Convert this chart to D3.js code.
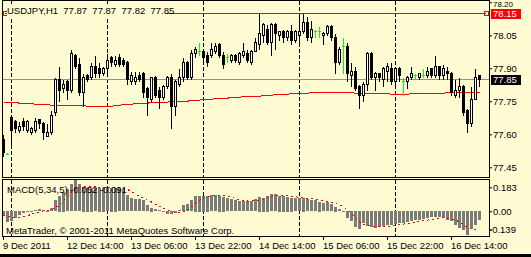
<!DOCTYPE html>
<html>
<head>
<meta charset="utf-8">
<script src="https://cdn.jsdelivr.net/npm/d3@7"></script>
<style>
  html, body { margin: 0; padding: 0; background: #fffbd2; }
  svg { display: block; font-family: "Liberation Sans", Arial, sans-serif; font-size: 9.5px; }
</style>
</head>
<body>
<div id="chart"></div>
<script>
// ---- data (USDJPY H1) ----
const barOpen = [77.58,77.51,77.68,77.66,77.62,77.66,77.62,77.61,77.62,77.67,77.65,77.59,77.61,77.70,77.85,77.81,77.84,77.80,77.96,77.92,
  77.79,77.87,77.86,77.91,77.90,77.88,77.90,77.95,77.92,77.95,77.94,77.93,77.84,77.84,77.87,77.88,77.81,77.76,77.86,77.80,
  77.77,77.82,77.86,77.73,77.83,77.86,77.93,77.86,77.97,77.98,77.98,77.96,77.96,77.98,78.01,77.96,77.95,77.94,77.96,77.93,
  77.96,77.97,77.93,77.98,78.01,78.05,78.08,78.02,78.10,78.05,78.07,78.04,78.07,78.03,78.05,78.07,78.11,78.04,78.07,78.07,
  78.05,78.06,78.09,78.04,77.93,78.00,78.00,77.87,77.89,77.82,77.78,77.83,77.97,77.86,77.88,77.85,77.89,77.90,77.84,77.90,
  77.84,77.84,77.86,77.87,77.86,77.87,77.87,77.90,77.87,77.91,77.87,77.89,77.88,77.78,77.80,77.82,77.71,77.65,77.76,77.87];
const barHigh = [77.60,77.52,77.68,77.67,77.66,77.68,77.67,77.64,77.68,77.67,77.66,77.65,77.71,77.86,77.91,77.85,77.85,77.99,77.97,77.95,
  77.88,77.88,77.93,77.96,77.93,77.91,77.97,77.96,77.96,77.97,77.95,77.94,77.89,77.89,77.89,77.89,77.82,77.86,77.87,77.82,
  77.83,77.87,77.88,77.85,77.90,77.95,77.94,77.99,78.00,78.02,77.99,77.98,78.02,78.02,78.02,77.98,77.97,77.97,77.97,77.98,
  78.02,77.99,77.99,78.04,78.15,78.11,78.10,78.11,78.11,78.07,78.08,78.08,78.10,78.08,78.14,78.15,78.14,78.12,78.08,78.09,
  78.07,78.10,78.10,78.06,78.00,78.04,78.02,77.93,77.91,77.83,77.84,77.98,77.98,77.89,77.88,77.91,77.93,77.93,77.91,77.91,
  77.86,77.87,77.91,77.88,77.88,77.90,77.91,77.90,77.96,77.91,77.92,77.91,77.89,77.85,77.86,77.83,77.72,77.82,77.90,77.87];
const barLow = [77.50,77.51,77.54,77.61,77.61,77.62,77.61,77.60,77.61,77.63,77.58,77.59,77.60,77.69,77.75,77.79,77.76,77.79,77.90,77.78,
  77.73,77.84,77.85,77.86,77.86,77.87,77.88,77.91,77.91,77.91,77.91,77.83,77.83,77.83,77.84,77.77,77.69,77.75,77.77,77.72,
  77.76,77.81,77.63,77.69,77.82,77.84,77.85,77.85,77.95,77.96,77.94,77.91,77.95,77.97,77.95,77.90,77.93,77.93,77.93,77.92,
  77.95,77.93,77.92,77.98,77.99,78.02,78.01,77.96,77.99,78.03,78.02,78.03,78.01,78.02,78.01,78.06,78.03,78.02,78.04,78.04,
  78.01,78.05,78.03,77.88,77.92,77.88,77.84,77.82,77.80,77.72,77.75,77.80,77.85,77.80,77.84,77.82,77.84,77.83,77.83,77.84,
  77.78,77.81,77.85,77.85,77.85,77.86,77.86,77.86,77.86,77.85,77.85,77.85,77.78,77.77,77.77,77.69,77.61,77.64,77.76,77.82];
const barClose = [77.52,77.51,77.62,77.63,77.64,77.64,77.66,77.63,77.66,77.65,77.61,77.61,77.69,77.85,77.80,77.83,77.80,77.97,77.91,77.79,
  77.86,77.85,77.91,77.88,77.88,77.90,77.94,77.93,77.94,77.92,77.92,77.85,77.87,77.86,77.85,77.79,77.77,77.86,77.78,77.77,
  77.82,77.86,77.73,77.84,77.86,77.93,77.86,77.97,77.99,77.98,77.95,77.93,77.99,78.00,77.96,77.92,77.95,77.96,77.94,77.97,
  77.98,77.94,77.98,78.02,78.06,78.10,78.02,78.10,78.06,78.07,78.04,78.07,78.03,78.07,78.07,78.11,78.04,78.08,78.07,78.07,
  78.06,78.09,78.04,77.93,77.99,78.00,77.88,77.89,77.81,77.78,77.83,77.97,77.86,77.88,77.86,77.90,77.91,77.84,77.90,77.87,
  77.84,77.86,77.88,77.87,77.88,77.87,77.89,77.87,77.91,77.87,77.90,77.88,77.79,77.80,77.82,77.70,77.65,77.76,77.86,77.85];

// red moving average
const maLine = [77.746,77.746,77.746,77.746,77.741,77.741,77.741,77.741,77.736,77.736,77.736,77.736,77.732,77.732,77.732,77.732,77.732,77.732,77.732,77.732,
  77.732,77.727,77.727,77.727,77.727,77.727,77.727,77.727,77.732,77.732,77.736,77.736,77.736,77.741,77.741,77.741,77.741,77.746,77.746,77.746,
  77.746,77.746,77.750,77.750,77.750,77.750,77.750,77.755,77.755,77.755,77.759,77.759,77.759,77.764,77.764,77.764,77.764,77.768,77.768,77.768,
  77.773,77.773,77.773,77.773,77.773,77.777,77.777,77.777,77.782,77.782,77.782,77.782,77.786,77.786,77.786,77.786,77.786,77.791,77.791,77.791,
  77.791,77.791,77.791,77.791,77.791,77.791,77.791,77.791,77.786,77.786,77.786,77.786,77.786,77.786,77.786,77.786,77.786,77.782,77.782,77.782,
  77.782,77.782,77.786,77.786,77.786,77.786,77.786,77.786,77.786,77.786,77.786,77.791,77.791,77.791,77.791,77.791,77.791,77.791,77.791,77.791];

// MACD(5,34,5): histogram and signal
const macdMain = [-0.028,-0.063,-0.057,-0.039,-0.022,-0.010,-0.004,0.002,0.008,0.011,0.008,0.002,0.018,0.066,0.091,0.115,0.131,0.158,0.183,0.158,
  0.144,0.138,0.138,0.135,0.138,0.138,0.135,0.138,0.138,0.135,0.131,0.095,0.076,0.072,0.072,0.066,0.037,0.021,0.013,0.005,
  -0.002,-0.015,-0.020,-0.012,0.005,0.037,0.041,0.066,0.091,0.091,0.091,0.091,0.095,0.095,0.091,0.085,0.076,0.072,0.066,0.060,
  0.060,0.060,0.060,0.072,0.085,0.080,0.091,0.100,0.100,0.091,0.091,0.085,0.080,0.076,0.076,0.080,0.072,0.066,0.066,0.056,
  0.047,0.053,0.041,0.027,0.012,0.002,-0.041,-0.061,-0.096,-0.104,-0.069,-0.086,-0.095,-0.098,-0.092,-0.086,-0.080,-0.080,-0.077,-0.071,
  -0.069,-0.063,-0.057,-0.051,-0.051,-0.045,-0.041,-0.037,-0.033,-0.037,-0.041,-0.051,-0.061,-0.080,-0.098,-0.109,-0.139,-0.104,-0.080,-0.052];
const macdSignal = [-0.022,-0.030,-0.036,-0.040,-0.038,-0.033,-0.026,-0.018,-0.010,-0.003,0.002,0.005,0.008,0.020,0.041,0.064,0.085,0.112,0.130,0.140,
  0.146,0.146,0.145,0.142,0.139,0.138,0.137,0.137,0.137,0.137,0.135,0.128,0.114,0.101,0.087,0.076,0.064,0.054,0.042,0.028,
  0.017,0.008,0.000,-0.008,-0.010,-0.004,0.008,0.025,0.046,0.065,0.080,0.087,0.091,0.093,0.093,0.091,0.087,0.082,0.074,0.067,
  0.063,0.060,0.060,0.062,0.067,0.071,0.078,0.087,0.091,0.094,0.095,0.093,0.089,0.085,0.081,0.078,0.077,0.074,0.071,0.068,
  0.062,0.058,0.053,0.045,0.036,0.027,0.008,-0.012,-0.035,-0.060,-0.077,-0.084,-0.088,-0.090,-0.091,-0.091,-0.089,-0.086,-0.083,-0.079,
  -0.075,-0.072,-0.068,-0.064,-0.060,-0.056,-0.052,-0.048,-0.044,-0.041,-0.039,-0.040,-0.045,-0.052,-0.062,-0.078,-0.095,-0.106,-0.108,-0.091];

const priceTicks = [78.20, 78.05, 77.90, 77.75, 77.60, 77.45];
const macdTicks = [0.183, 0.00, -0.139];
const timeTickBars = [0, 16, 32, 48, 64, 80, 96, 112];
const timeTickLabels = ["9 Dec 2011", "12 Dec 14:00", "13 Dec 06:00", "13 Dec 22:00",
  "14 Dec 14:00", "15 Dec 06:00", "15 Dec 22:00", "16 Dec 14:00"];
const daySeparatorBars = [2, 26, 50, 74, 98];
const alertPrice = 78.15;
const bidPrice = 77.85;
const symbolTitle = "USDJPY,H1";
const macdTitle = "MACD(5,34,5)";
const copyrightText = "MetaTrader, \u00a9 2001-2011 MetaQuotes Software Corp.";

// ---- drawing ----
const BG = "#fffbd2";
const W = 531, H = 257;
const main = {left: 2, right: 489, top: 0, bottom: 177};
const sub = {top: 179, bottom: 236};
const crisp = s => s.attr("shape-rendering", "crispEdges");
const px = v => Math.round(v) + 0.5;

const svg = d3.select("#chart").append("svg")
    .attr("width", W)
    .attr("height", H);

svg.append("rect").attr("width", W).attr("height", H).attr("fill", BG);

const x = d3.scaleLinear().domain([0, barOpen.length - 1]).range([3, 479]);
const y = d3.scaleLinear().domain([77.45, 78.20]).range([167.3, 2.3]);
const ym = d3.scaleLinear().domain([-0.139, 0.183]).range([235, 180]);

const defs = svg.append("defs");
defs.append("clipPath").attr("id", "clipMain").append("rect")
    .attr("x", main.left + 1).attr("y", main.top + 1)
    .attr("width", main.right - main.left - 1).attr("height", main.bottom - main.top - 1);
defs.append("clipPath").attr("id", "clipSub").append("rect")
    .attr("x", main.left + 1).attr("y", sub.top + 1)
    .attr("width", main.right - main.left - 1).attr("height", sub.bottom - sub.top - 1);

const gMain = svg.append("g").attr("clip-path", "url(#clipMain)");
const gSub = svg.append("g").attr("clip-path", "url(#clipSub)");

// day separators in both panes
[[gMain, main.top, main.bottom], [gSub, sub.top, sub.bottom]].forEach(([g, t, b]) => {
    g.selectAll(".sep")
        .data(daySeparatorBars)
        .enter().append("line")
        .attr("class", "sep")
        .attr("x1", d => x(d) + 0.5).attr("x2", d => x(d) + 0.5)
        .attr("y1", t + 1).attr("y2", b)
        .attr("stroke", "#000")
        .attr("stroke-dasharray", "4,2")
        .call(crisp);
});

// bid line
gMain.append("line")
    .attr("x1", main.left).attr("x2", main.right)
    .attr("y1", px(y(bidPrice))).attr("y2", px(y(bidPrice)))
    .attr("stroke", "#8a929c")
    .call(crisp);

// alert line with end squares
const alertY = px(y(alertPrice));
gMain.append("line")
    .attr("x1", 5).attr("x2", 486)
    .attr("y1", alertY).attr("y2", alertY)
    .attr("stroke", "#ff0000")
    .call(crisp);
gMain.selectAll(".alert-end")
    .data([5, 486])
    .enter().append("rect")
    .attr("class", "alert-end")
    .attr("x", d => d - 2 + 0.5).attr("y", alertY - 2)
    .attr("width", 4).attr("height", 4)
    .attr("fill", "none").attr("stroke", "#ff0000")
    .call(crisp);

// moving average
gMain.append("path")
    .datum(maLine)
    .attr("d", d3.line().x((d, i) => x(i) + 0.5).y(d => y(d)))
    .attr("fill", "none")
    .attr("stroke", "#ff0000")
    .call(crisp);

// candles
const bars = barOpen.map((o, i) => ({i, o, h: barHigh[i], l: barLow[i], c: barClose[i]}));
const candle = gMain.selectAll(".candle")
    .data(bars)
    .enter().append("g")
    .attr("class", "candle");

candle.append("line")
    .attr("x1", d => x(d.i) + 0.5).attr("x2", d => x(d.i) + 0.5)
    .attr("y1", d => px(y(d.h))).attr("y2", d => px(y(d.l)))
    .attr("stroke", d => d.o === d.c ? "#00ff00" : "#000")
    .call(crisp);

candle.filter(d => d.o !== d.c).append("rect")
    .attr("x", d => x(d.i) - 0.5)
    .attr("y", d => px(y(Math.max(d.o, d.c))))
    .attr("width", 2)
    .attr("height", d => Math.max(1, Math.round(y(Math.min(d.o, d.c))) - Math.round(y(Math.max(d.o, d.c)))))
    .attr("fill", d => d.c > d.o ? "#ffffff" : "#000")
    .attr("stroke", "#000")
    .call(crisp);

candle.filter(d => d.o === d.c).append("line")
    .attr("x1", d => x(d.i) - 1).attr("x2", d => x(d.i) + 2)
    .attr("y1", d => px(y(d.o))).attr("y2", d => px(y(d.o)))
    .attr("stroke", "#00ff00")
    .call(crisp);

// header with opaque background
const last = bars[bars.length - 1];
const headerText = [symbolTitle, last.o, last.h, last.l, last.c]
    .map((v, i) => i ? v.toFixed(2) : v).join("  ");
svg.append("rect")
    .attr("x", 7).attr("y", 4).attr("width", 158).attr("height", 13)
    .attr("fill", BG);
svg.append("text")
    .attr("x", 7).attr("y", 14)
    .attr("fill", "#000")
    .style("white-space", "pre")
    .text(headerText);

// MACD histogram
gSub.selectAll(".hist")
    .data(macdMain)
    .enter().append("rect")
    .attr("class", "hist")
    .attr("x", (d, i) => x(i) - 1)
    .attr("width", 3)
    .attr("y", d => Math.round(Math.min(ym(d), ym(0))))
    .attr("height", d => Math.max(1, Math.round(Math.abs(ym(d) - ym(0)))))
    .attr("fill", "#7b7b7b")
    .call(crisp);

gSub.append("path")
    .datum(macdSignal)
    .attr("d", d3.line().x((d, i) => x(i) + 0.5).y(d => ym(d)))
    .attr("fill", "none")
    .attr("stroke", "#ff0000")
    .attr("stroke-dasharray", "2,3")
    .call(crisp);

svg.append("text")
    .attr("x", 7).attr("y", 193)
    .style("white-space", "pre")
    .text(macdTitle + " " + macdMain[macdMain.length - 1].toFixed(3) + " " + macdSignal[macdSignal.length - 1].toFixed(3));

svg.append("text")
    .attr("x", 6).attr("y", 234)
    .text(copyrightText);

// frames
svg.append("rect")
    .attr("x", main.left + 0.5).attr("y", main.top + 0.5)
    .attr("width", main.right - main.left).attr("height", main.bottom - main.top)
    .attr("fill", "none").attr("stroke", "#000")
    .call(crisp);
svg.append("rect")
    .attr("x", main.left + 0.5).attr("y", sub.top + 0.5)
    .attr("width", main.right - main.left).attr("height", sub.bottom - sub.top)
    .attr("fill", "none").attr("stroke", "#000")
    .call(crisp);

// price axis
const yAxis = d3.axisRight(y)
    .tickValues(priceTicks)
    .tickSize(3)
    .tickPadding(1)
    .tickFormat(d3.format(".2f"));
const gy = svg.append("g")
    .attr("transform", `translate(${main.right},0)`)
    .call(yAxis);
gy.select(".domain").remove();
gy.selectAll("text").attr("font-family", "Liberation Sans, Arial, sans-serif").attr("fill", "#000")
    .attr("font-size", d => y(d) < 5 ? "8px" : "9.5px")
    .attr("y", d => y(d) < 5 ? 1.9 : 0);   // top label squeezed in above the red price box

// price labels on the right
[[alertPrice, "#ff0000", "#ffffff"], [bidPrice, "#000000", "#ffffff"]].forEach(([p, bg, fg]) => {
    const cy = y(p);
    svg.append("rect")
        .attr("x", 491).attr("y", Math.round(cy) - 4)
        .attr("width", 30).attr("height", 10)
        .attr("fill", bg);
    svg.append("text")
        .attr("x", 493).attr("y", Math.round(cy) + 4.2)
        .attr("fill", fg)
        .text(p.toFixed(2));
});

// MACD axis (extreme labels kept inside the pane)
const mAxis = d3.axisRight(ym)
    .tickValues(macdTicks)
    .tickSize(3)
    .tickPadding(1)
    .tickFormat(d => d === 0 ? "0.00" : d3.format(".3f")(d).replace("\u2212", "-"));
const gm = svg.append("g")
    .attr("transform", `translate(${main.right},0)`)
    .call(mAxis);
gm.select(".domain").remove();
gm.selectAll(".tick")
    .attr("transform", d => `translate(0,${Math.min(229.3, Math.max(187.3, ym(d))) + 0.5})`);
gm.selectAll("text").attr("font-size", "9.5px").attr("font-family", "Liberation Sans, Arial, sans-serif").attr("fill", "#000")
    .attr("x", d => d < 0 ? 0 : 4);

// time axis
const xAxis = d3.axisBottom(x)
    .tickValues(timeTickBars)
    .tickSize(3)
    .tickFormat((d, i) => timeTickLabels[i]);
const gx = svg.append("g")
    .attr("transform", `translate(0,${sub.bottom + 1})`)
    .call(xAxis);
gx.select(".domain").remove();
gx.selectAll("text")
    .attr("text-anchor", "start")
    .attr("x", -0.5).attr("y", 12).attr("dy", 0)
    .attr("font-size", "9.5px").attr("font-family", "Liberation Sans, Arial, sans-serif").attr("fill", "#000");

// bottom border
svg.append("rect").attr("x", 0).attr("y", 254).attr("width", W).attr("height", 3).attr("fill", "#000");
</script>
</body>
</html>
